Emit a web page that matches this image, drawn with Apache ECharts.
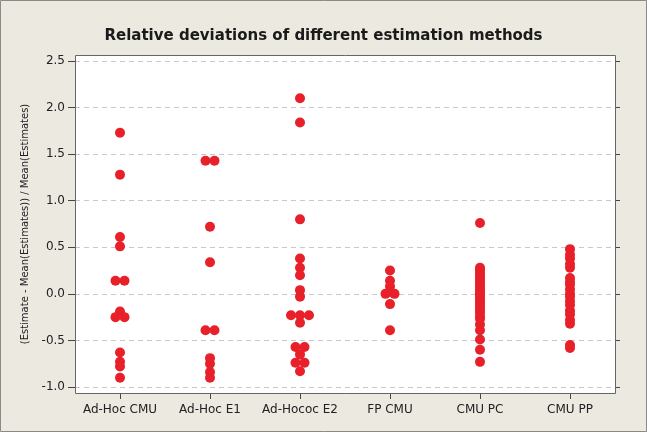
<!DOCTYPE html>
<html>
<head>
<meta charset="utf-8">
<script src="https://cdn.jsdelivr.net/npm/echarts@6/dist/echarts.min.js"></script>
<style>
html,body{margin:0;padding:0;background:#ECE9E1;}
#main{width:647px;height:432px;}
</style>
</head>
<body>
<div id="main"></div>
<script>
// categories and relative deviations
var categories = ['Ad-Hoc CMU', 'Ad-Hoc E1', 'Ad-Hococ E2', 'FP CMU', 'CMU PC', 'CMU PP'];

var adHocCmu = [1.73, 1.28, 0.61, 0.51, 0.14, 0.14, -0.19, -0.25, -0.25, -0.63, -0.73, -0.78, -0.90];
var adHocE1 = [1.43, 1.43, 0.72, 0.34, -0.39, -0.39, -0.69, -0.75, -0.84, -0.90];
var adHocE2 = [2.10, 1.84, 0.80, 0.38, 0.28, 0.20, 0.04, -0.03, -0.23, -0.23, -0.23, -0.31,
               -0.57, -0.57, -0.65, -0.74, -0.74, -0.83];
var fpCmu = [0.25, 0.14, 0.08, 0.02, 0.0, 0.0, -0.11, -0.39];
var cmuPc = [0.76, 0.28, 0.26, 0.23, 0.20, 0.17, 0.14, 0.11, 0.08, 0.05, 0.02, 0.0, -0.02,
             -0.05, -0.08, -0.11, -0.14, -0.17, -0.20, -0.24, -0.27, -0.33, -0.39, -0.49, -0.60, -0.73];
var cmuPp = [0.48, 0.42, 0.38, 0.32, 0.28, 0.17, 0.13, 0.10, 0.05, 0.0, -0.03, -0.08, -0.12,
             -0.18, -0.22, -0.28, -0.32, -0.55, -0.58];

var yTicks = [-1.0, -0.5, 0.0, 0.5, 1.0, 1.5, 2.0, 2.5];

var groups = [adHocCmu, adHocE1, adHocE2, fpCmu, cmuPc, cmuPp];

// plot frame (Minitab style frame is a bit larger than the tick range)
var W = 647, H = 432;
var gLeft = 75, gRight = 615, gTop = 61, gBottom = 387;
var frameTop = 55, frameBottom = 393;
var dotGap = 9;

// equal values sit side by side
function spread(values, ci) {
    var counts = {}, seen = {};
    values.forEach(function (v) { counts[v] = (counts[v] || 0) + 1; });
    return values.map(function (v) {
        seen[v] = seen[v] === undefined ? 0 : seen[v] + 1;
        var dx = (seen[v] - (counts[v] - 1) / 2) * dotGap;
        return { value: [ci, v], symbolOffset: [dx, 0] };
    });
}

var pts = [];
groups.forEach(function (g, i) { pts = pts.concat(spread(g, i)); });

var myChart = echarts.init(document.getElementById('main'));
var font = 'DejaVu Sans';

var option = {
    backgroundColor: '#ECE9E1',
    animation: false,
    title: {
        text: 'Relative deviations of different estimation methods',
        left: 'center',
        top: 24,
        textStyle: { fontFamily: font, fontSize: 15, fontWeight: 'bold', color: '#1a1a1a' }
    },
    grid: { left: gLeft, right: W - gRight, top: gTop, bottom: H - gBottom },
    graphic: [
        { type: 'rect', z: -10, shape: { x: gLeft, y: frameTop, width: gRight - gLeft, height: frameBottom - frameTop },
          style: { fill: '#fff', stroke: null } },
        { type: 'rect', z: 100, shape: { x: gLeft + 0.5, y: frameTop + 0.5, width: gRight - gLeft, height: frameBottom - frameTop },
          style: { fill: 'transparent', stroke: '#666', lineWidth: 1 } },
        { type: 'rect', z: 100, shape: { x: 0.5, y: 0.5, width: W - 1, height: H - 1 },
          style: { fill: 'transparent', stroke: '#8a8a8a', lineWidth: 1 } }
    ],
    xAxis: {
        type: 'category',
        data: categories,
        offset: frameBottom - gBottom + 1,
        axisLine: { show: false, onZero: false },
        axisTick: { show: true, alignWithLabel: true, length: 5, lineStyle: { color: '#444' } },
        axisLabel: { fontFamily: font, fontSize: 12, color: '#222', margin: 10, interval: 0 },
        splitLine: { show: false }
    },
    yAxis: [{
        type: 'value',
        min: yTicks[0],
        max: yTicks[yTicks.length - 1],
        interval: 0.5,
        name: '(Estimate - Mean(Estimates)) / Mean(Estimates)',
        nameLocation: 'middle',
        nameGap: 42,
        nameTextStyle: { fontFamily: font, fontSize: 10, color: '#222' },
        axisLine: { show: false },
        axisTick: { show: true, length: 7, lineStyle: { color: '#444' } },
        axisLabel: { fontFamily: font, fontSize: 12, color: '#222', margin: 10,
                     formatter: function (v) { return v.toFixed(1); } },
        splitLine: { show: true, lineStyle: { color: '#c8c8c8', type: [5, 4], width: 1 } }
    }, {
        type: 'value',
        position: 'right',
        min: yTicks[0],
        max: yTicks[yTicks.length - 1],
        interval: 0.5,
        axisLine: { show: false },
        axisTick: { show: true, length: 5, lineStyle: { color: '#444' } },
        axisLabel: { show: false },
        splitLine: { show: false }
    }],
    series: [{
        type: 'scatter',
        data: pts,
        symbolSize: 10,
        itemStyle: { color: '#E8202A', opacity: 1 }
    }]
};

myChart.setOption(option);
</script>
</body>
</html>
